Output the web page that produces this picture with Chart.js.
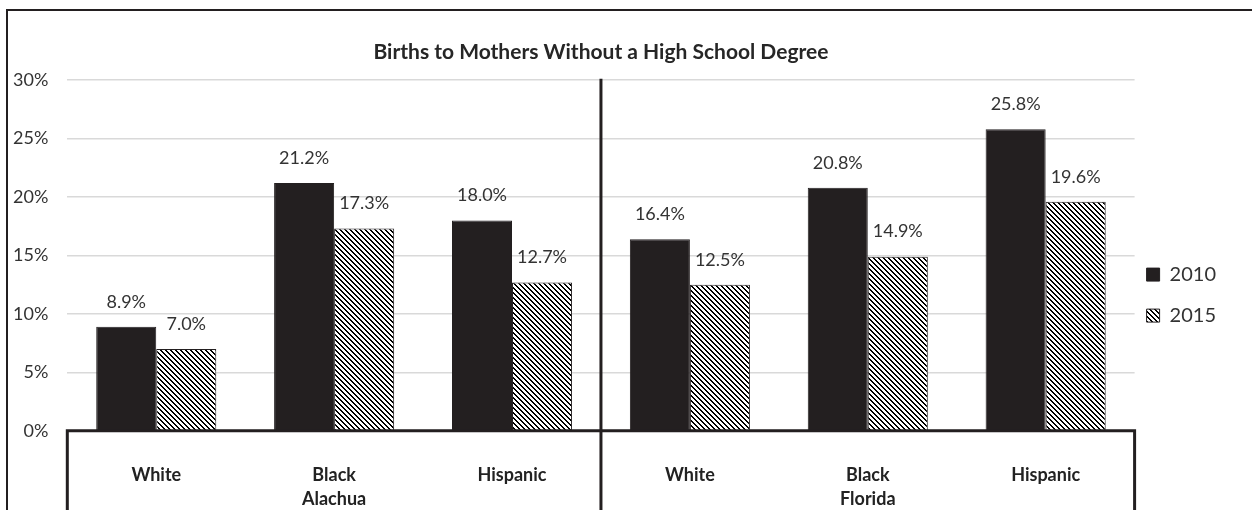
<!DOCTYPE html>
<html>
<head>
<meta charset="utf-8">
<script src="https://cdn.jsdelivr.net/npm/chart.js@4.4.1/dist/chart.umd.min.js"></script>
<style>
  html, body { margin: 0; padding: 0; background: #fff; }
  #wrap { position: relative; width: 1252px; height: 510px; }
</style>
</head>
<body>
<div id="wrap"><canvas id="chart"></canvas></div>
<script>
// data
var races = ['White', 'Black', 'Hispanic', 'White', 'Black', 'Hispanic'];
var regions = ['Alachua', 'Florida'];
var births2010 = [8.9, 21.2, 18.0, 16.4, 20.8, 25.8];
var births2015 = [7.0, 17.3, 12.7, 12.5, 14.9, 19.6];
var yTicks = [0, 5, 10, 15, 20, 25, 30];

var FONT = 'Lato, "Open Sans", sans-serif';
var INK = '#231f20';

// diagonal hatch used for the 2015 bars
function hatch() {
  var c = document.createElement('canvas');
  c.width = 5; c.height = 5;
  var g = c.getContext('2d');
  g.fillStyle = '#fff';
  g.fillRect(0, 0, 5, 5);
  g.fillStyle = '#000';
  for (var y = 0; y < 5; y++) {
    for (var x = 0; x < 5; x++) {
      if ((((x - y) % 5) + 5) % 5 < 2) g.fillRect(x, y, 1, 1);
    }
  }
  return g.createPattern(c, 'repeat');
}

// frame, baseline, separators and value labels
var extras = {
  id: 'extras',
  afterLayout: function(chart) {
    // legend sits in the middle of the plot + axis block
    var lg = chart.legend;
    lg.top = chart.chartArea.top;
    lg.left -= 9;
  },
  afterDatasetsDraw: function(chart) {
    var ctx = chart.ctx;
    var a = chart.chartArea;
    var H = chart.height;
    var mid = (a.left + a.right) / 2;
    ctx.save();
    ctx.strokeStyle = INK;
    ctx.lineCap = 'square';

    // outer frame
    ctx.lineWidth = 2;
    ctx.beginPath();
    ctx.moveTo(7, H);
    ctx.lineTo(7, 10);
    ctx.lineTo(chart.width, 10);
    ctx.stroke();

    // baseline and category box lines
    ctx.lineWidth = 3;
    ctx.beginPath();
    ctx.moveTo(a.left, H);
    ctx.lineTo(a.left, a.bottom);
    ctx.lineTo(a.right, a.bottom);
    ctx.lineTo(a.right, H);
    ctx.stroke();
    ctx.beginPath();
    ctx.moveTo(mid, a.top);
    ctx.lineTo(mid, H);
    ctx.stroke();

    // value labels
    ctx.fillStyle = '#333';
    ctx.font = '18px ' + FONT;
    ctx.textAlign = 'center';
    ctx.textBaseline = 'middle';
    chart.data.datasets.forEach(function(ds, i) {
      chart.getDatasetMeta(i).data.forEach(function(bar, j) {
        ctx.fillText(ds.data[j].toFixed(1) + '%', bar.x, bar.y - 25);
      });
    });
    ctx.restore();
  }
};

new Chart(document.getElementById('chart'), {
  type: 'bar',
  data: {
    labels: races,
    datasets: [
      {
        label: '2010',
        data: births2010,
        backgroundColor: INK,
        borderColor: INK,
        borderWidth: 1,
        categoryPercentage: 0.675,
        barPercentage: 1.0
      },
      {
        label: '2015',
        data: births2015,
        backgroundColor: hatch(),
        borderColor: INK,
        borderWidth: 1,
        categoryPercentage: 0.675,
        barPercentage: 1.0
      }
    ]
  },
  options: {
    responsive: true,
    maintainAspectRatio: false,
    animation: false,
    layout: { padding: { left: 13, right: 17, top: 0, bottom: 0 } },
    plugins: {
      title: {
        display: true,
        text: 'Births to Mothers Without a High School Degree',
        fullSize: false,
        color: '#262626',
        font: { family: FONT, size: 21, weight: 'bold' },
        padding: { top: 40, bottom: 15 }
      },
      legend: {
        position: 'right',
        labels: {
          boxWidth: 13,
          boxHeight: 13,
          padding: 21,
          color: '#333',
          font: { family: FONT, size: 20 }
        }
      },
      tooltip: { enabled: false }
    },
    scales: {
      x: {
        weight: 0,
        grid: { display: false, drawTicks: true, tickLength: 34 },
        border: { display: false },
        ticks: {
          padding: 0,
          color: '#222',
          font: { family: FONT, size: 18, weight: 'bold' }
        }
      },
      x2: {
        type: 'category',
        labels: regions,
        position: 'bottom',
        weight: 1,
        grid: { display: false, drawTicks: true, tickLength: 2 },
        border: { display: false },
        ticks: {
          padding: 0,
          color: '#222',
          font: { family: FONT, size: 18, weight: 'bold' }
        }
      },
      y: {
        min: yTicks[0],
        max: yTicks[yTicks.length - 1],
        afterBuildTicks: function(scale) {
          scale.ticks = yTicks.map(function(v) { return { value: v }; });
        },
        grid: { color: '#d9d9d9', lineWidth: 1.5, drawTicks: true, tickLength: 19, tickColor: 'transparent' },
        border: { display: false },
        ticks: {
          padding: 0,
          color: '#333',
          font: { family: FONT, size: 18 },
          callback: function(v) { return v + '%'; }
        }
      }
    }
  },
  plugins: [extras]
});
</script>
</body>
</html>
